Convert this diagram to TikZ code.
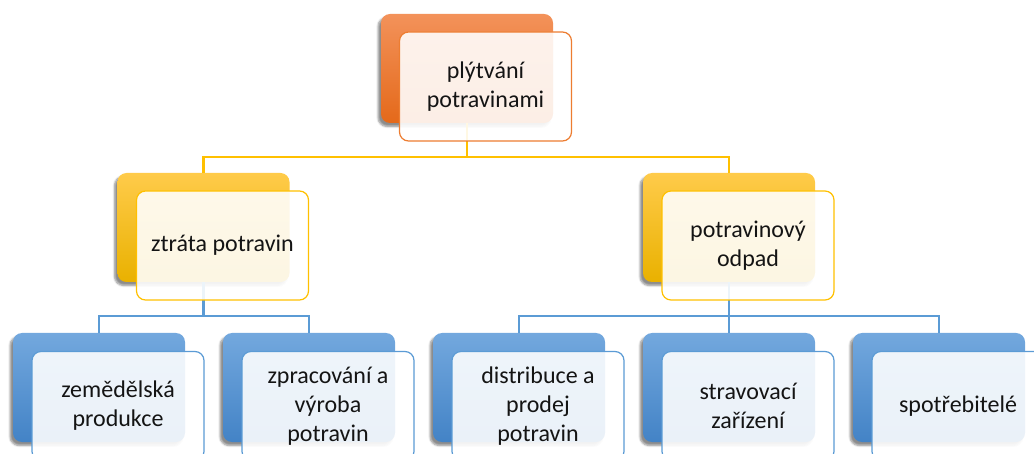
\documentclass[tikz,border=0pt]{standalone}
\usepackage{fontspec}
\setmainfont{Carlito}
\usetikzlibrary{shadows.blur}
\definecolor{orT}{HTML}{F3925A}
\definecolor{orB}{HTML}{E4691A}
\definecolor{orL}{HTML}{ED7D31}
\definecolor{yeT}{HTML}{FFCB4A}
\definecolor{yeB}{HTML}{E9B100}
\definecolor{yeL}{HTML}{FFC000}
\definecolor{blT}{HTML}{73A8DE}
\definecolor{blB}{HTML}{4383C6}
\definecolor{blL}{HTML}{5B9BD5}
\definecolor{txt}{HTML}{141414}
\begin{document}
\begin{tikzpicture}[x=1pt,y=-1pt,
  backbox/.style={rounded corners=9pt, minimum width=172pt, minimum height=109pt, inner sep=0pt,
    blur shadow={shadow xshift=-3pt, shadow yshift=-3.5pt, shadow blur steps=6, shadow opacity=45}},
  orback/.style={backbox, top color=orT, bottom color=orB},
  yeback/.style={backbox, top color=yeT, bottom color=yeB},
  blback/.style={backbox, top color=blT, bottom color=blB},
  frontbox/.style={rounded corners=9pt, minimum width=172pt, minimum height=109pt, inner sep=0pt,
    fill=white, fill opacity=0.89, text opacity=1, line width=1.2pt, align=center,
    font=\fontsize{24}{29}\selectfont, text=txt},
  orfront/.style={frontbox, draw=orL},
  yefront/.style={frontbox, draw=yeL},
  blfront/.style={frontbox, draw=blL},
  yline/.style={draw=yeL, line width=2.6pt},
  bline/.style={draw=blL, line width=2.6pt}]
\useasboundingbox (0,0) rectangle (1034,454);
% back boxes
\node[orback] (pb) at (467,68.5) {};
\node[yeback] (lb) at (203.5,227.5) {};
\node[yeback] (rb) at (729,227.5) {};
\node[blback] (ab) at (99,387.5) {};
\node[blback] (bb) at (309,387.5) {};
\node[blback] (cb) at (519,387.5) {};
\node[blback] (db) at (729,387.5) {};
\node[blback] (eb) at (939,387.5) {};
% connectors
\coordinate (ylev) at (0,157);
\coordinate (blev) at (0,316);
\draw[yline] (pb.south) -- (pb.south |- ylev);
\draw[yline] (lb.north) |- (pb.south |- ylev) -| (rb.north);
\draw[bline] (lb.south) -- (lb.south |- blev);
\draw[bline] (ab.north) |- (lb.south |- blev) -| (bb.north);
\draw[bline] (rb.south) -- (db.north);
\draw[bline] (cb.north) |- (rb.south |- blev) -| (eb.north);
% front boxes
\node[orfront] (pf) at (485.5,86.5) {plýtvání\\potravinami};
\node[yefront] (lf) at (222.5,245.5) {ztráta potravin};
\node[yefront] (rf) at (748,245.5) {potravinový\\odpad};
\node[blfront] (af) at (118,406) {zemědělská\\produkce};
\node[blfront] (bf) at (328,406) {zpracování a\\výroba\\potravin};
\node[blfront] (cf) at (538,406) {distribuce a\\prodej\\potravin};
\node[blfront] (df) at (748,406) {stravovací\\zařízení};
\node[blfront] (ef) at (958,406) {spotřebitelé};
\end{tikzpicture}
\end{document}
